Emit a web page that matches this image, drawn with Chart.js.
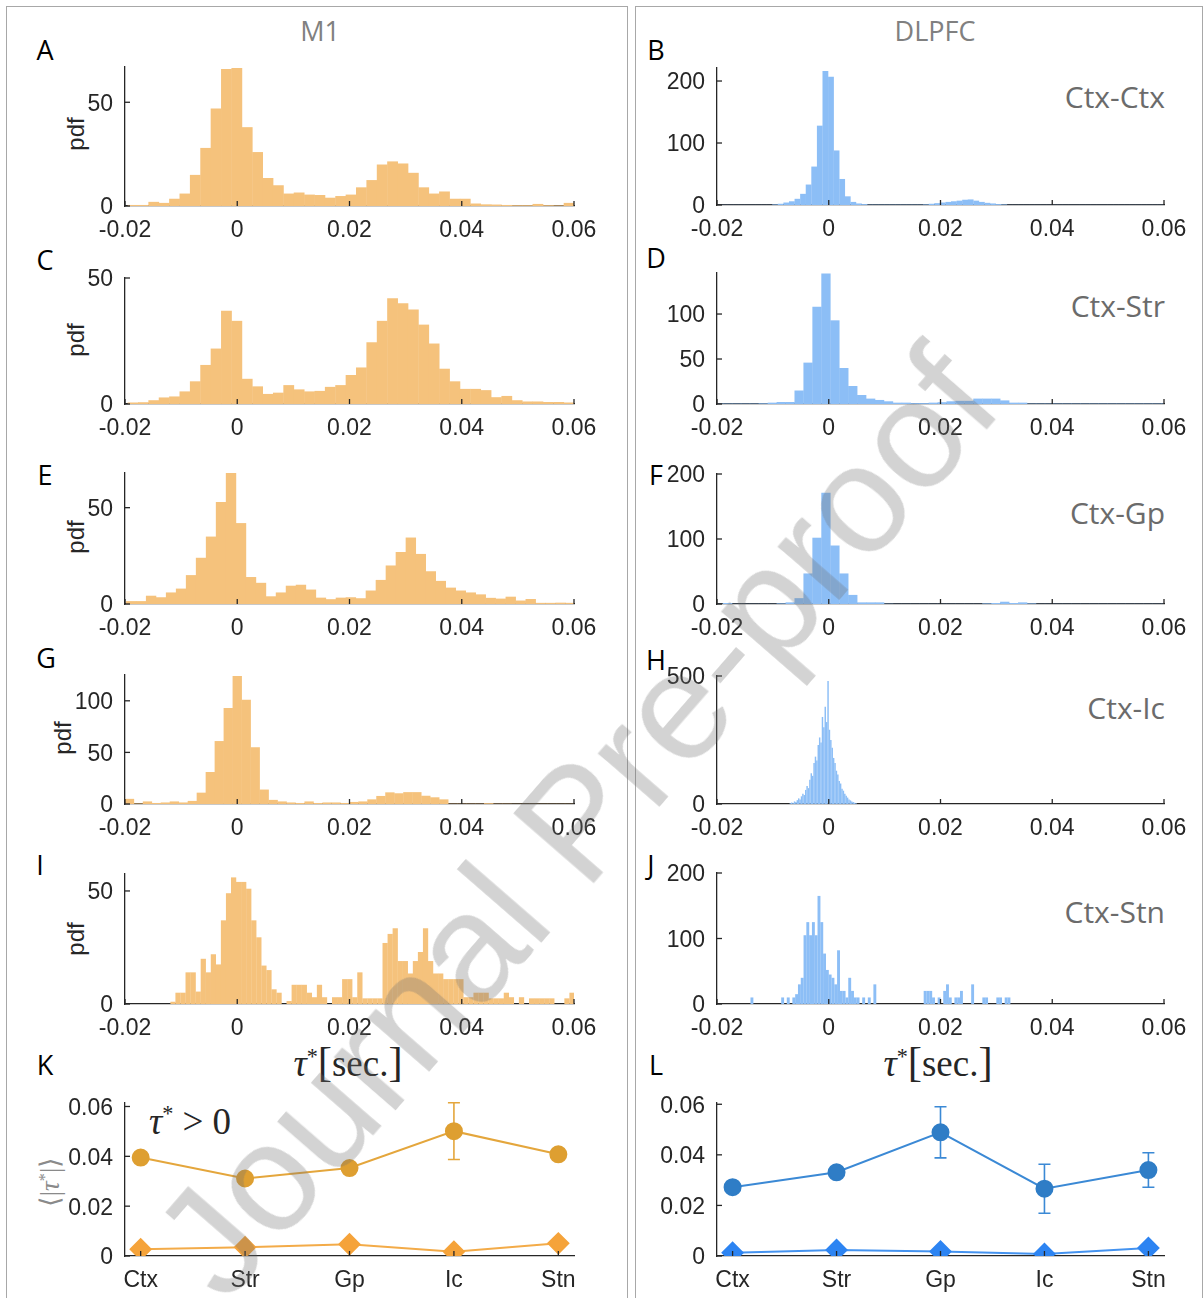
<!DOCTYPE html>
<html lang="en">
<head>
<meta charset="UTF-8">
<title>tau* histograms</title>
<script src="https://cdn.jsdelivr.net/npm/chart.js"></script>
<style>
  body { margin:0; width:1204px; height:1298px; background:#fff; position:relative; overflow:hidden; }
  canvas { position:absolute; }
  .box { position:absolute; border:1.5px solid #a8a8a8; border-bottom:none; }
  .t { position:absolute; white-space:nowrap; line-height:1; transform:translate(-50%,-50%); }
  .letter { font-family:"Open Sans", sans-serif; font-size:27px; color:#000; }
  .col { font-family:"Open Sans", sans-serif; font-size:27px; color:#808080; }
  .pdf { font-family:"Liberation Sans", Arial, sans-serif; font-size:24px; color:#262626; transform:translate(-50%,-50%) rotate(-90deg); }
  .pair { position:absolute; white-space:nowrap; line-height:1; transform:translate(-100%,-50%); font-family:"Open Sans", sans-serif; font-size:30px; color:#6b6b6b; }
  .tex { font-family:"Liberation Serif", "DejaVu Serif", serif; font-size:37px; color:#262626; }
  .tex sup { font-size:0.6em; vertical-align:0.55em; }
  .tex .br { font-size:1.15em; font-weight:300; }
  .ylab { font-family:"Liberation Serif", serif; font-size:27px; color:#8a8a8a; transform:translate(-50%,-50%) rotate(-90deg); }
  .ylab sup { font-size:0.6em; vertical-align:0.5em; }
  .wm { position:absolute; white-space:nowrap; line-height:1; font-family:"Liberation Sans", Arial, sans-serif;
        font-size:154px; color:rgba(110,110,110,0.3); transform:translate(-50%,-50%) rotate(-49deg); z-index:10; pointer-events:none; }
</style>
</head>
<body>

<div class="box" style="left:6px;top:6px;width:620px;height:1300px;"></div>
<div class="box" style="left:635px;top:6px;width:566px;height:1300px;"></div>

<div class="t col" style="left:320px;top:30px;">M1</div>
<div class="t col" style="left:935px;top:30px;">DLPFC</div>

<div class="t letter" style="left:45px;top:49px;">A</div>
<div class="t letter" style="left:656px;top:49px;">B</div>
<div class="t letter" style="left:45px;top:259px;">C</div>
<div class="t letter" style="left:656px;top:257px;">D</div>
<div class="t letter" style="left:45px;top:474px;">E</div>
<div class="t letter" style="left:656px;top:474px;">F</div>
<div class="t letter" style="left:46px;top:657px;">G</div>
<div class="t letter" style="left:656px;top:659px;">H</div>
<div class="t letter" style="left:40px;top:864px;">I</div>
<div class="t letter" style="left:651px;top:864px;">J</div>
<div class="t letter" style="left:45px;top:1064px;">K</div>
<div class="t letter" style="left:656px;top:1064px;">L</div>

<div class="t pdf" style="left:76px;top:134px;">pdf</div>
<div class="t pdf" style="left:76px;top:340px;">pdf</div>
<div class="t pdf" style="left:76px;top:537px;">pdf</div>
<div class="t pdf" style="left:63px;top:738px;">pdf</div>
<div class="t pdf" style="left:76px;top:939px;">pdf</div>

<div class="pair" style="left:1165px;top:97px;">Ctx-Ctx</div>
<div class="pair" style="left:1165px;top:306px;">Ctx-Str</div>
<div class="pair" style="left:1165px;top:513px;">Ctx-Gp</div>
<div class="pair" style="left:1165px;top:708px;">Ctx-Ic</div>
<div class="pair" style="left:1165px;top:912px;">Ctx-Stn</div>

<div class="t tex" style="left:348px;top:1062px;"><i>τ</i><sup>*</sup><span class="br">[</span>sec.<span class="br">]</span></div>
<div class="t tex" style="left:938px;top:1062px;"><i>τ</i><sup>*</sup><span class="br">[</span>sec.<span class="br">]</span></div>
<div class="t tex" style="left:190px;top:1121px;"><i>τ</i><sup>*</sup> &gt; 0</div>
<div class="t ylab" style="left:50px;top:1182px;">⟨|<i>τ</i><sup>*</sup>|⟩</div>

<div class="wm" style="left:576px;top:822px;">Journal Pre-proof</div>

<script>
// ---- shared axis values ----
const tauTicks = [-0.02, 0, 0.02, 0.04, 0.06];
const regions = ['Ctx', 'Str', 'Gp', 'Ic', 'Stn'];

// ---- M1 histograms (start of first bin, bin width, pdf heights) ----
const aStart = -0.0195, aWidth = 0.00185;
const aPdf = [0.5,0.5,2,1.5,3.5,6,15,28,47,66,66.5,38,26,13.5,10,6,6.5,5.5,5.3,4,4.8,5.5,9,12.5,20,21.5,20.5,16,9,6,7,3.5,3.5,1.2,0.8,0.7,0.5,0.4,0.4,1,0.4,0.3,1.5];
const aYTicks = [0, 50];

const cStart = -0.0195, cWidth = 0.00185;
const cPdf = [0.6,0.7,1.5,2.6,3,5,9,15.5,22,37,33,10,7,4,4.5,7.5,5.8,5,5.2,6.8,7.5,11.5,14.5,24.5,33,42,40,37.5,31.5,24,14,9,6,6,5.5,2.7,3.2,1.5,1,1,0.8,0.8,0.6];
const cYTicks = [0, 50];

const eStart = -0.0198, eWidth = 0.00178;
const ePdf = [1.5,1.5,4.3,3.5,6,8,15,24,35,53,68,42,14,11,4,6,9.5,10,7.5,3.3,2.5,3.3,3.5,3,7,12.5,20,27,34.5,26,17,12,8.5,7,6,5,3.2,2.8,3.8,1.8,2.6,0.6,0.6,0.7,0.6];
const eYTicks = [0, 50];

const gStart = -0.02, gWidth = 0.0016;
const gPdf = [5,0.5,2.5,1,1.5,2.5,1.5,3,11,31,61,93,124,101,55,14,4,2.5,1.5,1,2.5,1,1.5,1.5,1,2,2.5,4.5,7.8,11.3,10.4,11.5,11.5,8,6.5,4.5,0.3,0.3,0.3,0.3,0.8,0.3,0.3,0.2,0.2,0.2,0.2,0.2,0.2,0.2];
const gYTicks = [0, 50, 100];

const iStart = -0.02, iWidth = 0.0009;
const iPdf = [0,0,0,0,0,0,0,0,0,1,5,5,14,14,5.5,20,14,22,17.5,37,49,56,54,54,51,37,29.5,17,15,6.5,5,0,1.3,8.5,8.5,8.5,5,3,8.5,3,0,3,3,11,11,3,14,2.5,2.5,2.5,2.5,27,31,33.5,19,19,13.5,19,23,33.5,19,13.5,13.5,11,11,11,11,3,3,5,5,5,2.5,2.5,2.5,5,3,0,3,0,2.5,2.5,2.5,2.5,2.5,0,0,2.5,5];
const iYTicks = [0, 50];

// ---- DLPFC histograms ----
const bStart = -0.0201, bWidth = 0.001;
const bPdf = [0.3,0.3,0.3,0.3,0.3,0.3,0.3,0.3,0.3,0.3,1,2,4,6,10,18,33,62,128,216,207,88,42,14,5,2.5,1.5,0.6,0.6,0.6,0.6,0.6,0.6,0.6,0.6,0.6,0.6,1,2,3,4,5,6,7,8.5,9,7,5,3.5,2.5,1.5,1,0.3,0.3,0.3,0.3,0.3,0.3,0.3,0.3,0.3,0.3,0.3,0.3,0.3,0.3,0.3,0.3,0.3,0.3,0.3,0.3,0.3,0.3,0.3,0.3,0.3,0.3,0.3,0.3];
const bYTicks = [0, 100, 200];

const dStart = -0.0205, dWidth = 0.0016;
const dPdf = [0.5,0.5,0.5,0.5,0.5,0.8,1.5,2.2,2.2,15,46,108,145,93,40,20,10,6,4.5,3,1.5,1.5,1,1,1.5,2,3,3.5,3.5,6,6,6,4,1.5,1.5,0.5,0.5,0.5,0.5,0.5,0.5,0.5,0.5,0.5,0.5,0.5,0.5,0.5,0.5,0.5,0.5];
const dYTicks = [0, 50, 100];

const fStart = -0.0205, fWidth = 0.0016;
const fPdf = [0.5,1.5,0.3,0.3,0.3,0.3,0.3,1,2.5,9,47,102,171,90,47,14,2.5,2.5,2.5,0.5,0.3,0.3,0.3,0.3,0.3,0.3,0.3,0.3,0.3,0.3,1,1.5,3.5,1.5,2.5,1,0.3,0.3,0.3,0.3,0.3,0.3,0.3,0.3,0.3,0.3,0.3,0.3,0.3,0.3,0.3];
const fYTicks = [0, 100, 200];

const hStart = -0.007, hWidth = 0.00025;
const hPdf = [3,6,4,10,8,15,22,18,30,40,35,55,70,62,95,120,110,160,185,170,230,260,240,340,300,380,320,480,290,250,220,180,160,130,115,90,80,60,52,40,32,25,18,14,10,8,5,3];
const hYTicks = [0, 500];

const jStart = -0.014, jWidth = 0.0005;
const jPdf = [10,0,0,0,0,0,0,0,0,0,0,10,0,10,0,10,15,30,40,105,125,105,125,105,165,125,77,52,45,40,30,82,20,20,10,40,20,10,10,0,10,0,10,0,30,0,0,0,0,0,0,0,0,0,0,0,0,0,0,0,0,0,20,20,20,10,0,10,0,20,30,10,0,10,10,20,0,0,0,30,0,0,0,10,10,0,0,0,10,10,0,10,10,0];
const jYTicks = [0, 100, 200];

// ---- mean |tau*| per region (K: M1, L: DLPFC) ----
const kCircles = [0.0395, 0.0311, 0.0353, 0.0501, 0.0408];
const kCircleErr = [0.0004, 0.0004, 0.0005, 0.0114, 0.0012];
const kDiamonds = [0.0027, 0.0035, 0.0047, 0.0017, 0.0051];
const lCircles = [0.0272, 0.0331, 0.0489, 0.0266, 0.0340];
const lCircleErr = [0.0005, 0.0005, 0.0101, 0.0097, 0.0068];
const lDiamonds = [0.0013, 0.0024, 0.0018, 0.0008, 0.0032];
const meanYTicks = [0, 0.02, 0.04, 0.06];

const axisColor = '#262626';
const orange = '#F5C27C';
const blue = '#8CBEF6';

Chart.defaults.font.family = "'Liberation Sans', Arial, sans-serif";
Chart.defaults.font.size = 23;
Chart.defaults.color = axisColor;

// fixed layout around each axes box
const Y_W = 62, X_H = 42, PAD_T = 12, PAD_R = 38;

function makeCanvas(left, right, top, bottom) {
    const c = document.createElement('canvas');
    c.width = right - left + Y_W + PAD_R;
    c.height = bottom - top + PAD_T + X_H;
    c.style.left = (left - Y_W) + 'px';
    c.style.top = (top - PAD_T) + 'px';
    document.body.appendChild(c);
    return c;
}

// MATLAB style: tick marks point into the axes
const inwardTicks = {
    id: 'inwardTicks',
    afterDraw(chart) {
        const {ctx, chartArea, scales} = chart;
        ctx.save();
        ctx.strokeStyle = axisColor;
        ctx.lineWidth = 1.3;
        scales.x.ticks.forEach(t => {
            const px = scales.x.getPixelForValue(t.value);
            ctx.beginPath(); ctx.moveTo(px, chartArea.bottom); ctx.lineTo(px, chartArea.bottom - 5); ctx.stroke();
        });
        scales.y.ticks.forEach(t => {
            const py = scales.y.getPixelForValue(t.value);
            ctx.beginPath(); ctx.moveTo(chartArea.left, py); ctx.lineTo(chartArea.left + 5, py); ctx.stroke();
        });
        ctx.restore();
    }
};

const errorBars = {
    id: 'errorBars',
    beforeDatasetsDraw(chart) {
        const {ctx, scales} = chart;
        chart.data.datasets.forEach(ds => {
            if (!ds.errors) return;
            ctx.save();
            ctx.strokeStyle = ds.borderColor;
            ctx.lineWidth = 1.6;
            ds.data.forEach((p, i) => {
                const x = scales.x.getPixelForValue(p.x);
                const y1 = scales.y.getPixelForValue(p.y - ds.errors[i]);
                const y2 = scales.y.getPixelForValue(p.y + ds.errors[i]);
                ctx.beginPath();
                ctx.moveTo(x, y1); ctx.lineTo(x, y2);
                ctx.moveTo(x - 6, y1); ctx.lineTo(x + 6, y1);
                ctx.moveTo(x - 6, y2); ctx.lineTo(x + 6, y2);
                ctx.stroke();
            });
            ctx.restore();
        });
    }
};

function fixAxis(size, horizontal) {
    return (scale) => {
        if (horizontal) scale.height = size; else scale.width = size;
        scale.paddingLeft = 0; scale.paddingRight = 0;
        scale.paddingTop = 0; scale.paddingBottom = 0;
    };
}

function tickFmt(v) {
    return Math.abs(v) < 1e-9 ? '0' : (Number.isInteger(v) ? String(v) : v.toFixed(2));
}

function baseScales(xMin, xMax, xTicks, xLabel, yMax, yTicks) {
    return {
        x: {
            type: 'linear', min: xMin, max: xMax, offset: false,
            grid: { display: false },
            border: { display: true, color: axisColor, width: 1.3 },
            afterBuildTicks: s => { s.ticks = xTicks.map(v => ({ value: v })); },
            afterFit: fixAxis(X_H, true),
            ticks: { padding: 3, autoSkip: false, maxRotation: 0, callback: xLabel }
        },
        y: {
            min: 0, max: yMax,
            grid: { display: false },
            border: { display: true, color: axisColor, width: 1.3 },
            afterBuildTicks: s => { s.ticks = yTicks.map(v => ({ value: v })); },
            afterFit: fixAxis(Y_W, false),
            ticks: { padding: 4, labelOffset: 2, callback: v => tickFmt(v) }
        }
    };
}

function drawHist(box, start, width, pdf, yMax, yTicks, color) {
    const canvas = makeCanvas(box[0], box[1], box[2], box[3]);
    const bins = pdf.map((v, i) => ({ x: start + width * (i + 0.5), y: v }));
    new Chart(canvas, {
        type: 'bar',
        data: { datasets: [{ data: bins, backgroundColor: color, borderWidth: 0,
                             barPercentage: 1.04, categoryPercentage: 1, clip: 0 }] },
        options: {
            responsive: false, animation: false,
            layout: { padding: { top: PAD_T, right: PAD_R, left: 0, bottom: 0 } },
            plugins: { legend: { display: false }, tooltip: { enabled: false } },
            scales: baseScales(-0.02, 0.06, tauTicks, v => tickFmt(v), yMax, yTicks)
        },
        plugins: [inwardTicks]
    });
}

function drawMeans(box, circles, circleErr, diamonds, yMax, cols) {
    const canvas = makeCanvas(box[0], box[1], box[2], box[3]);
    new Chart(canvas, {
        type: 'line',
        data: {
            datasets: [
                { data: circles.map((v, i) => ({ x: i, y: v })), errors: circleErr,
                  borderColor: cols[0], backgroundColor: cols[1], pointBackgroundColor: cols[1], pointBorderColor: cols[1],
                  borderWidth: 2, pointStyle: 'circle', pointRadius: 8, tension: 0 },
                { data: diamonds.map((v, i) => ({ x: i, y: v })),
                  borderColor: cols[2], backgroundColor: cols[3], pointBackgroundColor: cols[3], pointBorderColor: cols[3],
                  borderWidth: 2, pointStyle: 'rectRot', pointRadius: 10, tension: 0 }
            ]
        },
        options: {
            responsive: false, animation: false,
            layout: { padding: { top: PAD_T, right: PAD_R, left: 0, bottom: 0 } },
            plugins: { legend: { display: false }, tooltip: { enabled: false } },
            scales: baseScales(-0.15, 4.15, regions.map((r, i) => i), v => regions[Math.round(v)], yMax, meanYTicks)
        },
        plugins: [inwardTicks, errorBars]
    });
}

// axes boxes: [left, right, top, bottom] in page pixels
drawHist([125, 574, 67, 206], aStart, aWidth, aPdf, 67, aYTicks, orange);
drawHist([125, 574, 278, 404], cStart, cWidth, cPdf, 50, cYTicks, orange);
drawHist([125, 574, 473, 604], eStart, eWidth, ePdf, 68, eYTicks, orange);
drawHist([125, 574, 675, 804], gStart, gWidth, gPdf, 125, gYTicks, orange);
drawHist([125, 574, 874, 1004], iStart, iWidth, iPdf, 57.5, iYTicks, orange);

drawHist([717, 1164, 68, 205], bStart, bWidth, bPdf, 221, bYTicks, blue);
drawHist([717, 1164, 273, 404], dStart, dWidth, dPdf, 145.6, dYTicks, blue);
drawHist([717, 1164, 474, 604], fStart, fWidth, fPdf, 200, fYTicks, blue);
drawHist([717, 1164, 676, 804], hStart, hWidth, hPdf, 500, hYTicks, blue);
drawHist([717, 1164, 873, 1004], jStart, jWidth, jPdf, 200, jYTicks, blue);

drawMeans([125, 574, 1103, 1256], kCircles, kCircleErr, kDiamonds, 0.0614, ['#E4A63C', '#DE9F31', '#F3AB48', '#F5A33A']);
drawMeans([717, 1164, 1103, 1256], lCircles, lCircleErr, lDiamonds, 0.0605, ['#3B89D5', '#2F7DC6', '#4493F0', '#2D84F2']);
</script>
</body>
</html>
